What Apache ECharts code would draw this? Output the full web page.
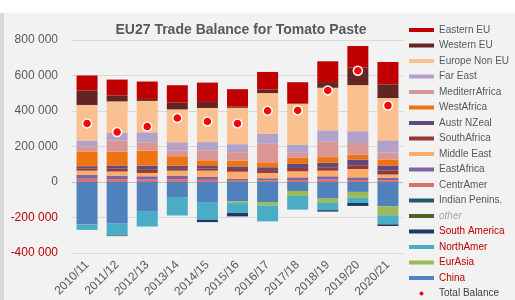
<!DOCTYPE html>
<html lang="en">
<head>
    <meta charset="UTF-8">
    <title>EU27 Trade Balance for Tomato Paste</title>
    <script src="https://cdn.jsdelivr.net/npm/echarts@6/dist/echarts.min.js"></script>
</head>
<body style="margin: 0; background: #fff">
<div style="position: absolute; left: 0; top: 13px; width: 4px; height: 287px; background: #d9d9d9"></div>
<div id="main" style="position: absolute; left: 4px; top: 13px; width: 511px; height: 287px; background: #f2f2f2"></div>
</body>

<script>
    // values in tonnes
    const years = ['2010/11', '2011/12', '2012/13', '2013/14', '2014/15', '2015/16',
        '2016/17', '2017/18', '2018/19', '2019/20', '2020/21'];

    const china = [-240000, -232000, -164000, -85000, -113000, -110000, -113000, -51000, -94000, -56000, -137000];
    const eurAsia = [0, 0, 0, 0, 0, -9000, -19000, -28000, -24000, -34000, -51000];
    const northAmer = [-30000, -70000, -87000, -104000, -100000, -56000, -90000, -77000, -41000, -28000, -51000];
    const southAmerica = [0, -3000, 0, 0, -13000, -19000, 0, 0, -8000, -17000, -9000];
    const other = [0, 0, 0, 0, 0, 0, 0, 0, 0, 0, 0];
    const indianPenins = [0, 0, 0, 0, 0, 0, 0, 0, 0, 0, 0];
    const centrAmer = [18000, 16000, 14000, 16000, 12000, 7000, 9000, 11000, 14000, 11000, 10000];
    const eastAfrica = [22000, 20000, 18000, 20000, 16000, 10000, 12000, 15000, 18000, 15000, 13000];
    const middleEast = [24000, 23000, 19000, 28000, 36000, 41000, 30000, 34000, 32000, 47000, 19000];
    const southAfrica = [13000, 18000, 21000, 14000, 13000, 15000, 16000, 19000, 19000, 21000, 23000];
    const austrNZeal = [12000, 16000, 20000, 14000, 13000, 15000, 16000, 23000, 25000, 32000, 28000];
    const westAfrica = [83000, 79000, 85000, 53000, 32000, 32000, 28000, 34000, 32000, 28000, 34000];
    const mediterrAfrica = [28000, 62000, 47000, 32000, 56000, 48000, 104000, 28000, 87000, 66000, 38000];
    const farEast = [34000, 43000, 56000, 47000, 47000, 45000, 56000, 47000, 64000, 66000, 70000];
    const europeNonEU = [200000, 177000, 177000, 185000, 192000, 205000, 230000, 229000, 240000, 260000, 238000];
    const westernEU = [81000, 34000, 11000, 38000, 34000, 6000, 21000, 3000, 32000, 98000, 77000];
    const easternEU = [85000, 89000, 98000, 98000, 109000, 99000, 98000, 119000, 117000, 122000, 126000];

    const totalBalance = [330000, 281000, 312000, 360000, 341000, 330000, 401000, 403000, 516000, 627000, 431000];

    // stacking order, first one sits next to zero
    const stackSeries = [
        ['China', china, '#4f81bd'],
        ['EurAsia', eurAsia, '#9bbb59'],
        ['NorthAmer', northAmer, '#4bacc6'],
        ['South America', southAmerica, '#1f3864'],
        ['other', other, '#4f6228'],
        ['Indian Penins.', indianPenins, '#215968'],
        ['CentrAmer', centrAmer, '#da6f6b'],
        ['EastAfrica', eastAfrica, '#8064a2'],
        ['Middle East', middleEast, '#f9ad6a'],
        ['SouthAfrica', southAfrica, '#953735'],
        ['Austr NZeal', austrNZeal, '#604a7b'],
        ['WestAfrica', westAfrica, '#ee7311'],
        ['MediterrAfrica', mediterrAfrica, '#d99694'],
        ['Far East', farEast, '#b3a2c7'],
        ['Europe Non EU', europeNonEU, '#fac090'],
        ['Western EU', westernEU, '#632523'],
        ['Eastern EU', easternEU, '#c00000']
    ];

    const redNames = ['South America', 'NorthAmer', 'EurAsia', 'China'];

    let legendData = stackSeries.slice().reverse().map(function (s) {
        let item = {name: s[0], icon: 'rect'};
        if (redNames.indexOf(s[0]) >= 0) {
            item.textStyle = {color: '#c00000'};
        }
        if (s[0] === 'other') {
            item.textStyle = {color: '#a6a6a6', fontStyle: 'italic'};
        }
        return item;
    });
    legendData.push({name: 'Total Balance', icon: 'circle', itemStyle: {borderWidth: 0}, textStyle: {color: '#404040'}});

    let series = stackSeries.map(function (s) {
        return {
            name: s[0],
            type: 'bar',
            stack: 'all',
            barWidth: 21,
            data: s[1],
            itemStyle: {color: s[2]}
        };
    });
    series.push({
        name: 'Total Balance',
        type: 'scatter',
        data: totalBalance,
        symbolSize: 9,
        z: 5,
        itemStyle: {color: '#ff0000', borderColor: '#ffffff', borderWidth: 1.5, opacity: 1}
    });

    function fmt(v) {
        let s = Math.abs(v).toString().replace(/\B(?=(\d{3})+(?!\d))/g, ' ');
        return (v < 0 ? '-' : '') + s;
    }

    const chart = echarts.init(document.getElementById('main'));

    let option = {
        animation: false,
        textStyle: {fontFamily: 'Liberation Sans'},
        title: {
            text: 'EU27 Trade Balance for Tomato Paste',
            left: 232,
            top: 5,
            textAlign: 'center',
            textStyle: {fontSize: 14, fontWeight: 'bold', color: '#595959', fontFamily: 'Liberation Sans'}
        },
        legend: {
            orient: 'vertical',
            left: 405,
            top: 11,
            padding: 0,
            height: 285,
            itemWidth: 25,
            itemHeight: 4,
            itemGap: 3.5,
            textStyle: {fontSize: 10, color: '#595959', lineHeight: 12, fontFamily: 'Liberation Sans'},
            data: legendData
        },
        grid: {
            left: 68,
            right: 112,
            top: 27,
            bottom: 33
        },
        xAxis: {
            type: 'category',
            data: years,
            axisLine: {show: false},
            axisTick: {show: false},
            axisLabel: {
                rotate: 45,
                interval: 0,
                margin: 10,
                fontSize: 12,
                color: '#595959'
            }
        },
        yAxis: {
            type: 'value',
            min: -400000,
            max: 800000,
            interval: 200000,
            axisLine: {show: false},
            axisTick: {show: false},
            splitLine: {lineStyle: {color: ['#d9d9d9', '#d9d9d9', '#bfbfbf', '#d9d9d9', '#d9d9d9', '#d9d9d9', '#d9d9d9']}},
            axisLabel: {
                fontSize: 12,
                margin: 14,
                formatter: fmt,
                color: function (v) {
                    return v < 0 ? '#c00000' : '#595959';
                }
            }
        },
        series: series
    };
    chart.setOption(option);
</script>

</html>
